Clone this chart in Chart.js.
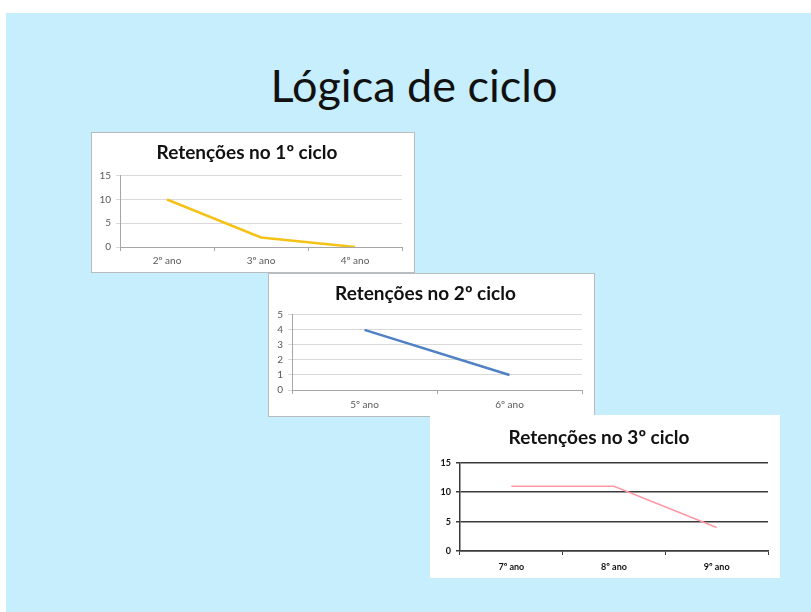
<!DOCTYPE html>
<html>
<head>
<meta charset="utf-8">
<script src="https://cdn.jsdelivr.net/npm/chart.js@4.4.1/dist/chart.umd.min.js"></script>
<style>
  body { margin: 0; background: #fff; width: 811px; height: 612px; overflow: hidden; position: relative; }
  #slide { position: absolute; left: 6px; top: 13px; width: 805px; height: 599px; background: #c6eefc; }
  #heading { position: absolute; left: 0; top: 58px; width: 828px; text-align: center;
             font-family: Lato, sans-serif; font-size: 45px; color: #111; }
  .box { position: absolute; background: #fff; box-sizing: border-box; }
  .box canvas { display: block; }
</style>
</head>
<body>
<div id="slide"></div>
<div id="heading">Lógica de ciclo</div>

<div class="box" style="left:91px;top:132px;width:324px;height:141px;border:1px solid #b8bcbf;">
  <canvas id="c1" width="322" height="139"></canvas>
</div>
<div class="box" style="left:268px;top:273px;width:327px;height:144px;border:1px solid #b8bcbf;">
  <canvas id="c2" width="325" height="142"></canvas>
</div>
<div class="box" style="left:430px;top:415px;width:350px;height:163px;">
  <canvas id="c3" width="350" height="163"></canvas>
</div>

<script>
// 1º ciclo
const cycle1Title = 'Retenções no 1º ciclo'
const cycle1Years = ['2º ano', '3º ano', '4º ano']
const cycle1Retentions = [10, 2, 0]
const cycle1Max = 15
const cycle1Step = 5

// 2º ciclo
const cycle2Title = 'Retenções no 2º ciclo'
const cycle2Years = ['5º ano', '6º ano']
const cycle2Retentions = [4, 1]
const cycle2Max = 5
const cycle2Step = 1

// 3º ciclo
const cycle3Title = 'Retenções no 3º ciclo'
const cycle3Years = ['7º ano', '8º ano', '9º ano']
const cycle3Retentions = [11, 11, 4]
const cycle3Max = 15
const cycle3Step = 5

function lineChart(id, title, labels, values, max, step, look) {
  new Chart(document.getElementById(id), {
    type: 'line',
    data: {
      labels: labels,
      datasets: [{
        data: values,
        borderColor: look.line,
        borderWidth: look.lineWidth,
        pointRadius: 0,
        tension: 0
      }]
    },
    options: {
      responsive: false,
      animation: false,
      layout: { padding: { left: 0, right: look.right, top: 0, bottom: 0 } },
      plugins: {
        legend: { display: false },
        tooltip: { enabled: false },
        title: {
          display: true,
          text: title,
          color: '#111',
          font: { family: 'Lato', size: 19, weight: 'bold', lineHeight: 1.2 },
          padding: { top: look.titleTop, bottom: look.titleBottom }
        }
      },
      scales: {
        x: {
          offset: true,
          afterFit: s => { s.height = look.xHeight },
          grid: { offset: true, drawOnChartArea: false, drawTicks: true, tickLength: 4, color: look.axis },
          border: { display: true, color: look.axis, width: look.axisWidth },
          ticks: { color: look.tick, font: { family: 'Lato', size: look.tickSize, weight: look.tickWeight }, padding: look.xPad, maxRotation: 0 }
        },
        y: {
          min: 0,
          max: max,
          afterFit: s => { s.width = look.yWidth },
          grid: { color: look.grid, lineWidth: look.gridWidth, drawTicks: true, tickLength: 4 },
          border: { display: true, color: look.axis, width: look.axisWidth },
          ticks: { stepSize: step, color: look.tick, font: { family: 'Lato', size: look.tickSize, weight: look.tickWeight }, padding: 5 }
        }
      }
    }
  })
}

lineChart('c1', cycle1Title, cycle1Years, cycle1Retentions, cycle1Max, cycle1Step, {
  line: '#f5c318', lineWidth: 2.5, grid: '#d9d9d9', gridWidth: 1, axis: '#a6a6a6', axisWidth: 1,
  tick: '#595959', tickWeight: 'normal', tickSize: 10, xPad: 4,
  right: 12, xHeight: 25, yWidth: 28, titleTop: 8, titleBottom: 12
})

lineChart('c2', cycle2Title, cycle2Years, cycle2Retentions, cycle2Max, cycle2Step, {
  line: '#4f81c4', lineWidth: 2.5, grid: '#d9d9d9', gridWidth: 1, axis: '#a6a6a6', axisWidth: 1,
  tick: '#595959', tickWeight: 'normal', tickSize: 10, xPad: 5,
  right: 12, xHeight: 26, yWidth: 23, titleTop: 8, titleBottom: 10
})

lineChart('c3', cycle3Title, cycle3Years, cycle3Retentions, cycle3Max, cycle3Step, {
  line: '#ff98a4', lineWidth: 1.5, grid: '#3a3a3a', gridWidth: 1.5, axis: '#3a3a3a', axisWidth: 1.5,
  tick: '#111', tickWeight: 'bold', tickSize: 9, xPad: 7,
  right: 12, xHeight: 27, yWidth: 30, titleTop: 11, titleBottom: 14
})
</script>
</body>
</html>
